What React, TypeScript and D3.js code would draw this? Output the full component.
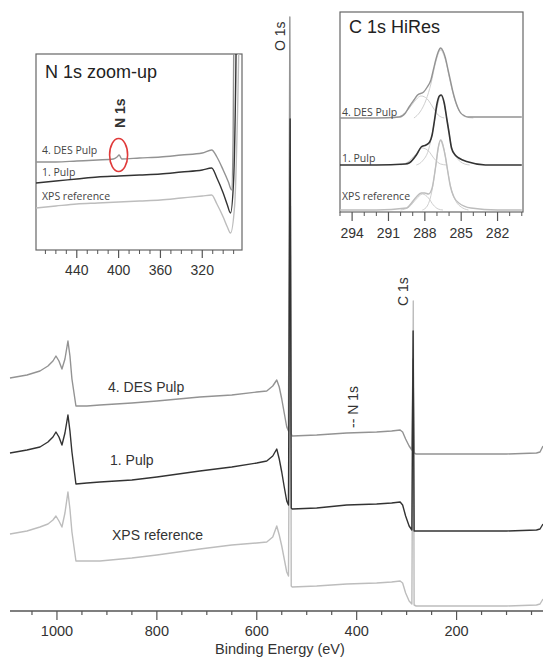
import React from "react";
import * as d3 from "d3";

// ---------- main survey spectra: [binding energy (eV), intensity (a.u.)] ----------
const desMain: [number, number][] = [
  [1094, 233], [1060, 236], [1034, 240], [1018, 245], [1008, 250], [1002, 255], [996, 250], [990, 242], [984, 252], [978, 270], [974, 255], [970, 232], [962, 205], [940, 205], [914, 206], [850, 208], [800, 210], [714, 214], [650, 216], [600, 219], [580, 220], [568, 225], [560, 231], [555, 224], [550, 212], [545, 198], [540, 184], [536.5, 180], [533.8, 594], [531, 177], [529, 175], [480, 176], [420, 178], [360, 179], [330, 180], [313, 181], [308, 179], [302, 172], [295, 165], [289.5, 161], [287.3, 252], [285, 158], [281, 157], [200, 157], [100, 157], [40, 158], [33, 159], [27, 165],
];
const pulpMain: [number, number][] = [
  [1094, 158], [1060, 161], [1034, 164], [1018, 169], [1008, 174], [1002, 179], [996, 174], [990, 166], [984, 178], [978, 196], [974, 180], [970, 159], [962, 127], [940, 128], [914, 129], [850, 131], [800, 134], [714, 140], [650, 144], [600, 148], [580, 150], [568, 155], [560, 162], [555, 152], [550, 139], [545, 124], [540, 110], [536.5, 106], [533.2, 492], [531, 103], [529, 102], [480, 103], [420, 106], [360, 107], [330, 108], [313, 109], [308, 106], [302, 95], [295, 85], [289.5, 81], [287, 280], [285, 80], [281, 80], [200, 80], [100, 80], [40, 81], [33, 82], [27, 87],
];
const xpsMain: [number, number][] = [
  [1094, 77], [1060, 80], [1034, 84], [1018, 87], [1008, 91], [1002, 95], [996, 90], [990, 84], [984, 98], [978, 119], [974, 102], [970, 79], [962, 50], [940, 50], [914, 50], [850, 53], [800, 56], [714, 62], [650, 66], [600, 68], [580, 69], [568, 74], [560, 85], [555, 76], [550, 65], [545, 52], [540, 39], [536.5, 35], [532.6, 405], [531, 25], [529, 24], [480, 25], [420, 27], [360, 28], [330, 29], [313, 30], [308, 28], [302, 18], [295, 10], [289.5, 7], [286.7, 310], [285, 6], [281, 5], [200, 5], [100, 5], [40, 6], [33, 7], [27, 12],
];
const mainMajorTicks = [1000, 800, 600, 400, 200];
const mainMinorTicks = [1050, 950, 900, 850, 750, 700, 650, 550, 500, 450, 350, 300, 250, 150, 100, 50];

// ---------- N 1s zoom-up inset ----------
const desN: [number, number][] = [
  [479, 88], [460, 88], [440, 89], [420, 90], [405, 91], [401.5, 93], [399.5, 95], [397, 91], [380, 92], [360, 93], [340, 95], [320, 97], [311, 100], [306, 93], [300, 80], [295, 68], [292, 60], [290.5, 110], [289.5, 260],
];
const pulpN: [number, number][] = [
  [479, 67], [460, 69], [440, 71], [420, 73], [400, 74], [380, 75], [360, 76], [340, 78], [320, 80], [311, 82], [306, 72], [300, 57], [296, 45], [293, 37], [290, 70], [288, 170], [287, 260],
];
const xpsN: [number, number][] = [
  [479, 42], [460, 44], [440, 46], [420, 47], [400, 48], [380, 49], [360, 50], [340, 52], [320, 54], [311, 55], [306, 46], [300, 33], [296, 23], [293, 17], [289, 45], [286, 150], [284, 260],
];
const nMajorTicks = [440, 400, 360, 320];
const nMinorTicks = [470, 460, 450, 430, 420, 410, 390, 380, 370, 350, 340, 330, 310, 300, 290];

// ---------- C 1s HiRes inset ----------
const desC: [number, number][] = [
  [295, 94], [292, 94], [290.1, 95], [289.6, 99], [289.3, 105], [288.9, 112], [288.6, 117], [288.1, 120], [287.8, 125], [287.5, 132], [287.3, 142], [287.1, 152], [286.9, 160], [286.7, 164], [286.5, 161], [286.3, 154], [286.1, 143], [285.9, 132], [285.7, 121], [285.5, 112], [285.1, 100], [284.7, 96], [284.4, 95], [282, 95], [280, 95],
];
const desCB: [number, number][] = [
  [290.6, 94], [290, 96], [289.4, 102], [288.9, 110], [288.3, 116], [287.8, 113], [287.3, 104], [286.9, 97], [286.4, 94],
];
const desCA: [number, number][] = [
  [288.9, 94], [288.4, 100], [287.9, 112], [287.5, 128], [287.1, 150], [286.7, 162], [286.3, 152], [285.9, 130], [285.5, 111], [285.1, 100], [284.6, 95], [284, 94],
];
const pulpC: [number, number][] = [
  [295, 47], [292, 47], [289.6, 48], [289.3, 49], [288.7, 57], [288.3, 65], [287.9, 67], [287.6, 70], [287.4, 77], [287.2, 92], [287.0, 108], [286.8, 116], [286.65, 117], [286.4, 109], [286.2, 94], [286.0, 79], [285.8, 64], [285.5, 57], [285.2, 54], [284.4, 50], [283, 47], [280, 47],
];
const pulpCB: [number, number][] = [
  [290, 47], [289.4, 50], [288.8, 57], [288.2, 64], [287.7, 61], [287.2, 53], [286.7, 48], [286.2, 47],
];
const pulpCA: [number, number][] = [
  [288.7, 47], [288.2, 51], [287.7, 62], [287.3, 84], [287.0, 104], [286.7, 116], [286.4, 108], [286.1, 87], [285.8, 66], [285.4, 55], [284.9, 49], [284.3, 47],
];
const xpsC: [number, number][] = [
  [295, 2], [292, 2], [289.5, 4], [289.1, 9], [288.7, 15], [288.3, 19], [288.0, 19], [287.7, 18], [287.4, 24], [287.1, 46], [286.9, 64], [286.7, 72], [286.5, 66], [286.3, 55], [286.1, 40], [285.9, 26], [285.6, 15], [285.2, 9], [284.2, 4], [282, 2], [280, 2],
];
const xpsCB: [number, number][] = [
  [290, 2], [289.3, 5], [288.7, 13], [288.2, 18], [287.7, 14], [287.3, 7], [286.9, 3], [286.5, 2],
];
const xpsCA: [number, number][] = [
  [288.2, 2], [287.8, 6], [287.4, 22], [287.1, 46], [286.8, 69], [286.65, 72], [286.4, 62], [286.1, 40], [285.8, 22], [285.4, 10], [285, 5], [284.4, 2],
];
const cMajorTicks = [294, 291, 288, 285, 282];
const cMinorTicks = [295, 293, 292, 290, 289, 287, 286, 284, 283, 281, 280];

const seriesLabels = ["4. DES Pulp", "1. Pulp", "XPS reference"];

const COL_DES = "#939393";
const COL_PULP = "#333333";
const COL_XPS = "#bdbdbd";
const COL_COMP = "#cfcfcf";

export default function App() {
  // main scales
  const mx = d3.scaleLinear().domain([1094, 27]).range([10, 543]);
  const my = d3.scaleLinear().domain([0, 600]).range([611, 11]);
  const mainLine = d3.line<[number, number]>().x((d) => mx(d[0])).y((d) => my(d[1]));

  // N1s inset scales
  const nx = d3.scaleLinear().domain([479, 282]).range([36, 242]);
  const ny = d3.scaleLinear().domain([0, 196]).range([250, 54]);
  const nLine = d3.line<[number, number]>().x((d) => nx(d[0])).y((d) => ny(d[1])).curve(d3.curveMonotoneX);

  // C1s inset scales
  const cx = d3.scaleLinear().domain([295, 279.9]).range([340, 523]);
  const cy = d3.scaleLinear().domain([0, 200]).range([212, 12]);
  const cLine = d3.line<[number, number]>().x((d) => cx(d[0])).y((d) => cy(d[1])).curve(d3.curveMonotoneX);

  const axisY = my(0);
  const sans = "'Liberation Sans', Arial, sans-serif";
  const small = "'Open Sans', 'Liberation Sans', sans-serif";

  return (
    <svg
      width={543}
      height={657}
      style={{ position: "absolute", left: 0, top: 0, background: "#fff" }}
      fontFamily={sans}
    >
      <defs>
        <clipPath id="clipN">
          <rect x={36} y={54} width={206} height={196} />
        </clipPath>
        <clipPath id="clipC">
          <rect x={340} y={12} width={183} height={200} />
        </clipPath>
      </defs>
      <rect x={0} y={0} width={543} height={657} fill="#fff" />

      {/* main spectra */}
      <g fill="none" strokeLinejoin="round">
        <path d={mainLine(xpsMain) || ""} stroke={COL_XPS} strokeWidth={1.4} />
        <path d={mainLine(desMain) || ""} stroke={COL_DES} strokeWidth={1.4} />
        <path d={mainLine(pulpMain) || ""} stroke={COL_PULP} strokeWidth={1.4} />
      </g>

      {/* main x axis */}
      <line x1={10} x2={543} y1={axisY} y2={axisY} stroke="#555" strokeWidth={1.5} />
      {mainMinorTicks.map((t) => (
        <line key={"mn" + t} x1={mx(t)} x2={mx(t)} y1={axisY} y2={axisY + 4} stroke="#555" strokeWidth={1.2} />
      ))}
      {mainMajorTicks.map((t) => (
        <g key={"mj" + t}>
          <line x1={mx(t)} x2={mx(t)} y1={axisY} y2={axisY + 9} stroke="#555" strokeWidth={1.2} />
          <text x={mx(t)} y={636} fontSize={14.5} textAnchor="middle" fill="#333">
            {t}
          </text>
        </g>
      ))}
      <text x={280} y={654} fontSize={14.5} textAnchor="middle" fill="#333">
        Binding Energy (eV)
      </text>

      {/* main labels */}
      <text x={108} y={392} fontSize={14} fill="#333">{seriesLabels[0]}</text>
      <text x={110} y={465} fontSize={14} fill="#333">{seriesLabels[1]}</text>
      <text x={112} y={540} fontSize={14} fill="#333">{seriesLabels[2]}</text>
      <text transform="translate(285,51) rotate(-90)" fontSize={14} fill="#333">O 1s</text>
      <text transform="translate(408,306) rotate(-90)" fontSize={14} fill="#333">C 1s</text>
      <text transform="translate(358,428) rotate(-90)" fontSize={14} fill="#333">-- N 1s</text>

      {/* N 1s inset */}
      <rect x={36} y={54} width={206} height={196} fill="#fff" stroke="#666" strokeWidth={1.2} />
      <g clipPath="url(#clipN)" fill="none" strokeLinejoin="round">
        <path d={nLine(xpsN) || ""} stroke={COL_XPS} strokeWidth={1.4} />
        <path d={nLine(desN) || ""} stroke={COL_DES} strokeWidth={1.4} />
        <path d={nLine(pulpN) || ""} stroke={COL_PULP} strokeWidth={1.4} />
      </g>
      {nMinorTicks.map((t) => (
        <line key={"nn" + t} x1={nx(t)} x2={nx(t)} y1={250} y2={254} stroke="#555" strokeWidth={1} />
      ))}
      {nMajorTicks.map((t) => (
        <g key={"nj" + t}>
          <line x1={nx(t)} x2={nx(t)} y1={250} y2={258} stroke="#555" strokeWidth={1.2} />
          <text x={nx(t)} y={275} fontSize={14} textAnchor="middle" fill="#333">
            {t}
          </text>
        </g>
      ))}
      <text x={45} y={78} fontSize={18} fill="#222">N 1s zoom-up</text>
      <text x={42} y={154} fontSize={10.5} fontFamily={small} fill="#444">{seriesLabels[0]}</text>
      <text x={42} y={176} fontSize={10.5} fontFamily={small} fill="#444">{seriesLabels[1]}</text>
      <text x={42} y={200} fontSize={10.5} fontFamily={small} fill="#444">{seriesLabels[2]}</text>
      <text transform="translate(125,128) rotate(-90)" fontSize={14} fontWeight="bold" fill="#333">N 1s</text>
      <ellipse cx={nx(400)} cy={155} rx={9} ry={16.5} fill="none" stroke="#e03a3a" strokeWidth={1.6} />

      {/* C 1s inset */}
      <rect x={340} y={12} width={183} height={200} fill="#fff" stroke="#666" strokeWidth={1.2} />
      <g clipPath="url(#clipC)" fill="none" strokeLinejoin="round">
        <path d={cLine(desCB) || ""} stroke={COL_COMP} strokeWidth={1} />
        <path d={cLine(desCA) || ""} stroke={COL_COMP} strokeWidth={1} />
        <path d={cLine(pulpCB) || ""} stroke={COL_COMP} strokeWidth={1} />
        <path d={cLine(pulpCA) || ""} stroke={COL_COMP} strokeWidth={1} />
        <path d={cLine(xpsCB) || ""} stroke={COL_COMP} strokeWidth={1} />
        <path d={cLine(xpsCA) || ""} stroke={COL_COMP} strokeWidth={1} />
        <path d={cLine(xpsC) || ""} stroke={COL_XPS} strokeWidth={1.4} />
        <path d={cLine(desC) || ""} stroke={COL_DES} strokeWidth={1.4} />
        <path d={cLine(pulpC) || ""} stroke={COL_PULP} strokeWidth={1.6} />
      </g>
      {cMinorTicks.map((t) => (
        <line key={"cn" + t} x1={cx(t)} x2={cx(t)} y1={212} y2={216} stroke="#555" strokeWidth={1} />
      ))}
      {cMajorTicks.map((t) => (
        <g key={"cj" + t}>
          <line x1={cx(t)} x2={cx(t)} y1={212} y2={221} stroke="#555" strokeWidth={1.2} />
          <text x={cx(t)} y={238} fontSize={14} textAnchor="middle" fill="#333">
            {t}
          </text>
        </g>
      ))}
      <text x={349} y={33} fontSize={18} fill="#222">C 1s HiRes</text>
      <text x={342} y={116} fontSize={10.5} fontFamily={small} fill="#444">{seriesLabels[0]}</text>
      <text x={342} y={162} fontSize={10.5} fontFamily={small} fill="#444">{seriesLabels[1]}</text>
      <text x={342} y={200} fontSize={10.5} fontFamily={small} fill="#444">{seriesLabels[2]}</text>
    </svg>
  );
}
